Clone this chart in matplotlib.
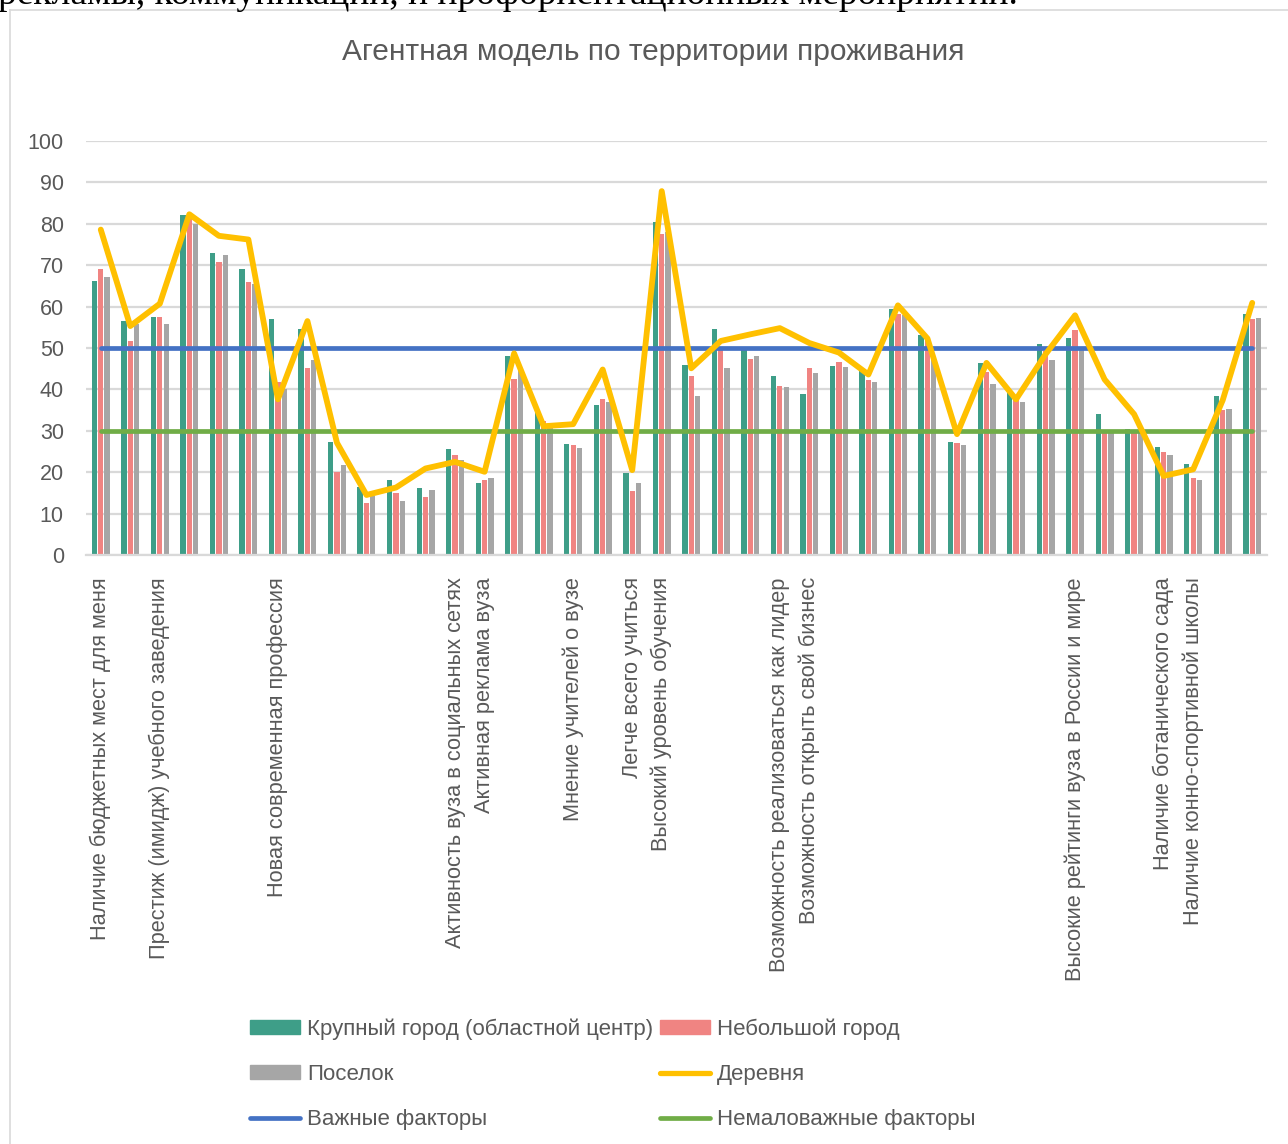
import matplotlib
matplotlib.use("Agg")
import matplotlib.pyplot as plt
import numpy as np
from matplotlib.lines import Line2D
from matplotlib.patches import Patch

plt.rcParams['font.family'] = ['Liberation Sans', 'DejaVu Sans']

title = "Агентная модель по территории проживания"

labels = [""] * 40
labels[0] = "Наличие бюджетных мест для меня"
labels[2] = "Престиж (имидж) учебного заведения"
labels[6] = "Новая современная профессия"
labels[12] = "Активность вуза в социальных сетях"
labels[13] = "Активная реклама вуза"
labels[16] = "Мнение учителей о вузе"
labels[18] = "Легче всего учиться"
labels[19] = "Высокий уровень обучения"
labels[23] = "Возможность реализоваться как лидер"
labels[24] = "Возможность открыть свой бизнес"
labels[33] = "Высокие рейтинги вуза в России и мире"
labels[36] = "Наличие ботанического сада"
labels[37] = "Наличие конно-спортивной школы"

krupny = [66.1, 56.6, 57.5, 82.1, 73.0, 69.2, 57.0, 54.5, 27.2, 16.5,
          18.1, 16.3, 25.6, 17.4, 48.0, 34.5, 26.8, 36.2, 19.9, 80.4,
          45.9, 54.6, 50.0, 43.2, 38.9, 45.6, 44.6, 59.5, 53.1, 27.4,
          46.3, 39.4, 50.9, 52.5, 34.0, 30.5, 26.0, 22.1, 38.4, 58.2]
nebolshoy = [69.2, 51.6, 57.6, 81.5, 70.8, 66.0, 41.8, 45.1, 20.1, 12.5,
             15.0, 14.0, 24.1, 18.1, 42.6, 32.4, 26.5, 37.6, 15.4, 77.6,
             43.2, 50.0, 47.3, 40.9, 45.1, 46.7, 42.2, 58.3, 52.0, 27.0,
             44.1, 37.4, 49.3, 54.3, 29.5, 29.8, 24.9, 18.7, 35.0, 57.0]
poselok = [67.2, 55.9, 55.8, 80.0, 72.4, 65.5, 40.2, 47.1, 21.7, 14.3,
           13.0, 15.8, 22.9, 18.5, 45.0, 31.0, 25.9, 37.0, 17.4, 78.0,
           38.4, 45.2, 48.1, 40.7, 43.9, 45.5, 41.7, 57.9, 47.5, 26.5,
           41.3, 37.0, 47.1, 50.0, 29.5, 29.5, 24.1, 18.1, 35.2, 57.2]
derevnya = [78.6, 55.3, 60.7, 82.3, 77.1, 76.2, 37.6, 56.5, 27.1, 14.5,
            16.3, 20.9, 22.5, 20.1, 48.7, 31.1, 31.6, 44.8, 20.5, 87.9,
            45.1, 51.7, 53.3, 54.8, 51.2, 48.9, 43.6, 60.3, 52.3, 29.2,
            46.4, 37.6, 48.5, 57.9, 42.4, 34.0, 19.1, 20.7, 37.4, 60.9]
vazhnye = [50] * 40
nemalovazhnye = [30] * 40

series_names = ["Крупный город (областной центр)", "Небольшой город", "Поселок",
                "Деревня", "Важные факторы", "Немаловажные факторы"]

C_GREEN = "#3E9E88"
C_PINK = "#F08482"
C_GRAY = "#A6A6A6"
C_YELLOW = "#FFC000"
C_BLUE = "#4472C4"
C_LGREEN = "#70AD47"
TXT = "#595959"
GRID = "#D9D9D9"

W, H = 1288, 1144
fig = plt.figure(figsize=(W / 100, H / 100), dpi=100)

# chart border
fig.add_artist(Line2D([10 / W, 10 / W], [0, 1 - 10 / H], color=GRID, lw=1.2))
fig.add_artist(Line2D([10 / W, 1], [1 - 10 / H, 1 - 10 / H], color=GRID, lw=1.2))

# clipped text line from the document above the chart
fig.text(-2 / W, 1 - 4 / H, "рекламы, коммуникации, и профориентационных мероприятий.",
         family=['Liberation Serif', 'DejaVu Serif'], fontsize=27, color="black",
         ha='left', va='baseline')

ax = fig.add_axes([86 / W, 1 - 555 / H, (1267 - 86) / W, (555 - 141) / H])
x = np.arange(len(labels))
bw = 0.18
off = 0.215
ax.bar(x - off, krupny, bw, color=C_GREEN, zorder=2)
ax.bar(x, nebolshoy, bw, color=C_PINK, zorder=2)
ax.bar(x + off, poselok, bw, color=C_GRAY, zorder=2)
ax.plot(x, derevnya, color=C_YELLOW, lw=4.2, zorder=4, solid_joinstyle='round', solid_capstyle='round')
ax.plot(x, vazhnye, color=C_BLUE, lw=3.4, zorder=3, solid_capstyle='round')
ax.plot(x, nemalovazhnye, color=C_LGREEN, lw=3.4, zorder=3, solid_capstyle='round')

ax.set_xlim(-0.5, len(labels) - 0.5)
ax.set_ylim(0, 100)
ax.set_yticks(range(0, 101, 10))
ax.yaxis.grid(True, color=GRID, lw=1.6, zorder=0)
ax.set_axisbelow(True)
for s in ['top', 'right', 'left']:
    ax.spines[s].set_visible(False)
ax.spines['bottom'].set_color(GRID)
ax.spines['bottom'].set_linewidth(1.6)
ax.tick_params(axis='y', length=0, pad=16, labelsize=15.5, labelcolor=TXT)
ax.tick_params(axis='x', length=0, pad=16, labelsize=15.7, labelcolor=TXT)
ax.set_xticks(x)
ax.set_xticklabels(labels, rotation=90, ha='center', va='top')

fig.text(653 / W, 1 - 52 / H, title, ha='center', va='center', fontsize=21.5, color=TXT)

handles = [Patch(color=C_GREEN), Patch(color=C_GRAY),
           Line2D([], [], color=C_BLUE, lw=3.4, solid_capstyle='round'),
           Patch(color=C_PINK),
           Line2D([], [], color=C_YELLOW, lw=3.8, solid_capstyle='round'),
           Line2D([], [], color=C_LGREEN, lw=3.4, solid_capstyle='round')]
names = [series_names[0], series_names[2], series_names[4],
         series_names[1], series_names[3], series_names[5]]
leg = fig.legend(handles, names, ncol=2, loc='upper left',
                 bbox_to_anchor=(250 / W, 1 - 1018 / H), frameon=False,
                 fontsize=16, handlelength=2.25, handleheight=0.6,
                 handletextpad=0.32, columnspacing=0.3, labelspacing=1.1,
                 borderpad=0, borderaxespad=0)
for t in leg.get_texts():
    t.set_color(TXT)

fig.savefig("out.png", dpi=100)
